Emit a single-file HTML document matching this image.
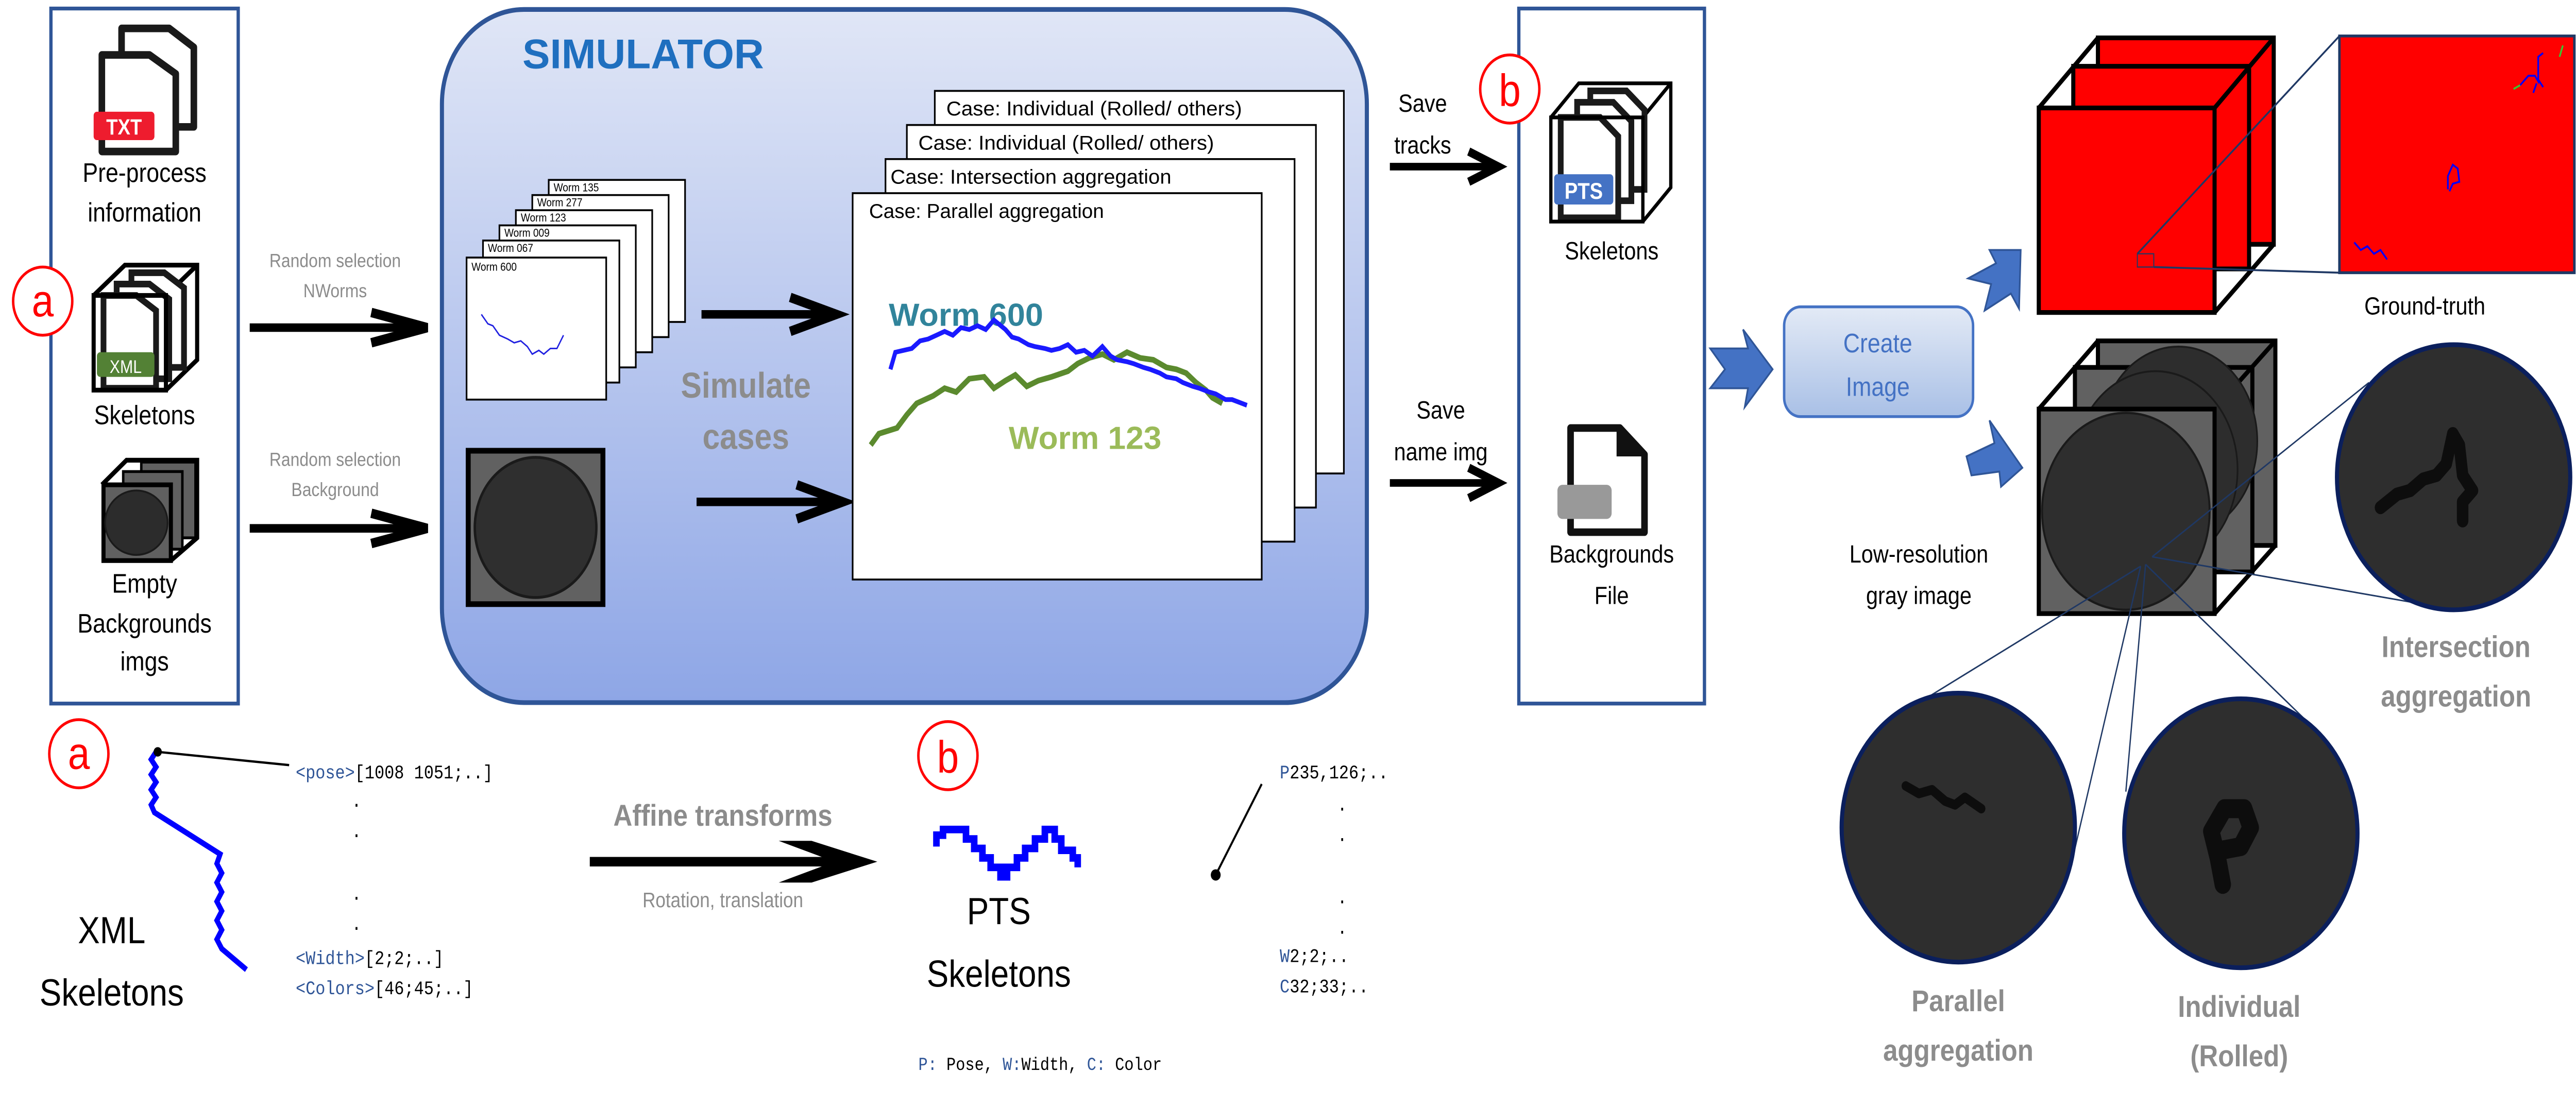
<!DOCTYPE html>
<html><head><meta charset="utf-8"><style>html,body{margin:0;padding:0;background:#fff;width:100%;height:100%;overflow:hidden}svg{display:block;width:100vw;height:100vh}</style></head>
<body>
<svg viewBox="0 0 1568 584" preserveAspectRatio="none" xmlns="http://www.w3.org/2000/svg" font-family="'Liberation Sans', sans-serif">
<defs>
<linearGradient id="sim" x1="0" y1="0" x2="0" y2="1"><stop offset="0" stop-color="#e0e6f6"/><stop offset="1" stop-color="#8ea6e6"/></linearGradient>
<linearGradient id="btn" x1="0" y1="0" x2="0" y2="1"><stop offset="0" stop-color="#e3eaf6"/><stop offset="1" stop-color="#a9c0e6"/></linearGradient>
</defs>

<!-- Left box -->
<rect x="31" y="4.5" width="114" height="367" fill="#fff" stroke="#2f5597" stroke-width="2"/>
<path d="M74,15 h29 l15,10 v42 h-44 z" fill="#fff" stroke="#1a1a1a" stroke-width="4" stroke-linejoin="round"/>
<path d="M62,29 h29 l16,10 v41 h-45 z" fill="#fff" stroke="#1a1a1a" stroke-width="4" stroke-linejoin="round"/>
<rect x="57" y="59" width="37" height="15" rx="2" fill="#ee1c2e"/>
<text x="75.5" y="71" font-size="11.5" font-weight="bold" fill="#fff" text-anchor="middle">TXT</text>
<text x="88" y="96" font-size="14" text-anchor="middle">Pre-process</text>
<text x="88" y="117" font-size="14" text-anchor="middle">information</text>
<path d="M57,156 L76,140 H120 V190 L101,206" fill="none" stroke="#000" stroke-width="2.5"/>
<path d="M101,156 L120,140" stroke="#000" stroke-width="2.5"/>
<path d="M80,144 h20 l12,8 v42 h-32 z" fill="#fff" stroke="#1a1a1a" stroke-width="3.5"/>
<path d="M71,150 h20 l12,8 v42 h-32 z" fill="#fff" stroke="#1a1a1a" stroke-width="3.5"/>
<path d="M63,156 h20 l12,8 v41 h-32 z" fill="#fff" stroke="#1a1a1a" stroke-width="3.5"/>
<rect x="57" y="156" width="44" height="50" fill="none" stroke="#000" stroke-width="2.5"/>
<rect x="59" y="186" width="35" height="13" rx="2" fill="#538135"/>
<text x="76.5" y="197" font-size="9.5" fill="#fff" text-anchor="middle">XML</text>
<text x="88" y="224" font-size="14" text-anchor="middle">Skeletons</text>
<path d="M62,256 L77,243 H120 V284 L104,296" fill="none" stroke="#000" stroke-width="2.5"/>
<rect x="86" y="244" width="33" height="40" fill="#606060" stroke="#000" stroke-width="1.5"/>
<rect x="75" y="249" width="36" height="41" fill="#606060" stroke="#000" stroke-width="1.5"/>
<rect x="63" y="256" width="41" height="40" fill="#606060" stroke="#000" stroke-width="2.5"/>
<ellipse cx="83" cy="276" rx="19" ry="17" fill="#2c2c2c" stroke="#1a1a1a"/>
<text x="88" y="313" font-size="14" text-anchor="middle">Empty</text>
<text x="88" y="334" font-size="14" text-anchor="middle">Backgrounds</text>
<text x="88" y="354" font-size="14" text-anchor="middle">imgs</text>
<circle cx="26" cy="159" r="18" fill="#fff" stroke="#f00" stroke-width="1.5"/>
<text x="26" y="167" font-size="24" fill="#f00" text-anchor="middle">a</text>

<g fill="#8c8c8c" font-size="10" text-anchor="middle">
<text x="204" y="141">Random selection</text><text x="204" y="157">NWorms</text>
<text x="204" y="246">Random selection</text><text x="204" y="262">Background</text>
</g>
<g stroke="#000" stroke-width="4.5" fill="none">
<line x1="152" y1="173" x2="255" y2="173"/><path d="M226,165 L260,173 L226,181" stroke-width="5"/>
<line x1="152" y1="279" x2="255" y2="279"/><path d="M226,271 L260,279 L226,287" stroke-width="5"/>
</g>

<!-- Simulator -->
<rect x="269" y="5" width="563" height="366" rx="50" fill="url(#sim)" stroke="#2f5597" stroke-width="2.5"/>
<text x="318" y="36" font-size="22" font-weight="bold" fill="#1f6fbf" textLength="147" lengthAdjust="spacingAndGlyphs">SIMULATOR</text>
<g stroke="#000" stroke-width="1" fill="#fff">
<rect x="334" y="95" width="83" height="75"/>
<rect x="324" y="103" width="83" height="75"/>
<rect x="314" y="111" width="83" height="75"/>
<rect x="304" y="119" width="83" height="75"/>
<rect x="294" y="127" width="83" height="75"/>
<rect x="284" y="136" width="85" height="75"/>
</g>
<g font-size="6" fill="#000">
<text x="337" y="101">Worm 135</text><text x="327" y="109">Worm 277</text><text x="317" y="117">Worm 123</text><text x="307" y="125">Worm 009</text><text x="297" y="133">Worm 067</text><text x="287" y="143">Worm 600</text>
</g>
<path d="M293,166 l4,5 l3,1 l4,5 l5,2 l4,2 l4,-1 l4,3 l3,4 l4,-2 l3,2 l4,-3 l4,0 l4,-7" fill="none" stroke="#2020e0" stroke-width="0.8"/>
<rect x="285" y="238" width="82" height="81" fill="#616161" stroke="#000" stroke-width="3"/>
<ellipse cx="326" cy="278.5" rx="37" ry="37" fill="#2f2f2f" stroke="#1a1a1a" stroke-width="1.5"/>
<g stroke="#000" stroke-width="4.5" fill="none">
<line x1="427" y1="166" x2="503" y2="166"/><path d="M481,157 L509,166 L481,175" stroke-width="5"/>
<line x1="424" y1="265" x2="506" y2="265"/><path d="M485,256 L513,265 L485,274" stroke-width="5"/>
</g>
<text x="454" y="210" font-size="19" font-weight="bold" fill="#8c8c8c" text-anchor="middle">Simulate</text>
<text x="454" y="237" font-size="19" font-weight="bold" fill="#8c8c8c" text-anchor="middle">cases</text>
<g stroke="#000" stroke-width="1" fill="#fff">
<rect x="569" y="48" width="249" height="202"/>
<rect x="552" y="66" width="249" height="202"/>
<rect x="539" y="84" width="249" height="202"/>
<rect x="519" y="102" width="249" height="204"/>
</g>
<g font-size="10.5" fill="#000">
<text x="576" y="61" textLength="180" lengthAdjust="spacingAndGlyphs">Case: Individual (Rolled/ others)</text>
<text x="559" y="79" textLength="180" lengthAdjust="spacingAndGlyphs">Case: Individual (Rolled/ others)</text>
<text x="542" y="97" textLength="171" lengthAdjust="spacingAndGlyphs">Case: Intersection aggregation</text>
<text x="529" y="115" textLength="143" lengthAdjust="spacingAndGlyphs">Case: Parallel aggregation</text>
</g>
<text x="541" y="172" font-size="17" font-weight="bold" fill="#31849b" textLength="94" lengthAdjust="spacingAndGlyphs">Worm 600</text>
<text x="614" y="237" font-size="17" font-weight="bold" fill="#9bbb59" textLength="93" lengthAdjust="spacingAndGlyphs">Worm 123</text>
<polyline points="530,235 535,229 546,226 552,219 558,213 568,209 575,205 582,207 590,200 599,199 605,205 612,201 618,198 625,204 632,201 640,199 650,196 656,192 663,189 671,187 678,190 686,186 694,189 702,190 710,194 716,195 722,197 728,202 734,206 738,210 744,213" fill="none" stroke="#5b8a2e" stroke-width="3"/>
<polyline points="542,195 545,186 550,185 555,184 560,180 565,179 570,177 575,175 580,177 585,173 590,174 595,172 600,174 605,169 612,174 616,178 620,179 626,182 630,183 636,184 640,185 645,184 650,182 655,186 660,185 665,188 671,183 676,188 680,190 686,191 690,192 696,194 700,195 706,197 710,199 716,200 720,202 726,204 730,205 736,207 740,208 746,211 750,211 759,214" fill="none" stroke="#1a1aff" stroke-width="2.5"/>

<text x="866" y="59" font-size="13" text-anchor="middle">Save</text>
<text x="866" y="81" font-size="13" text-anchor="middle">tracks</text>
<text x="877" y="221" font-size="13" text-anchor="middle">Save</text>
<text x="877" y="243" font-size="13" text-anchor="middle">name img</text>
<g stroke="#000" stroke-width="4" fill="none">
<line x1="846" y1="88" x2="908" y2="88"/><path d="M894,80 L912,88 L894,96" stroke-width="4.5"/>
<line x1="846" y1="255" x2="908" y2="255"/><path d="M894,247 L912,255 L894,263" stroke-width="4.5"/>
</g>

<rect x="924.5" y="4.5" width="113" height="367" fill="#fff" stroke="#2f5597" stroke-width="2"/>
<circle cx="919" cy="47" r="18" fill="#fff" stroke="#f00" stroke-width="1.5"/>
<text x="919" y="56" font-size="24" fill="#f00" text-anchor="middle">b</text>
<path d="M944,62 L961,44 H1017 V99 L1000,117" fill="none" stroke="#000" stroke-width="2"/>
<path d="M1000,62 L1017,44" stroke="#000" stroke-width="2"/>
<path d="M968,48 h22 l11,10 v42 h-33 z" fill="#fff" stroke="#1a1a1a" stroke-width="3.5"/>
<path d="M960,54 h22 l11,10 v42 h-33 z" fill="#fff" stroke="#1a1a1a" stroke-width="3.5"/>
<path d="M950,62 h24 l11,10 v43 h-35 z" fill="#fff" stroke="#1a1a1a" stroke-width="3.5"/>
<rect x="944" y="62" width="56" height="55" fill="none" stroke="#000" stroke-width="2"/>
<rect x="946" y="92" width="36" height="16" rx="2" fill="#4472c4"/>
<text x="964" y="105" font-size="12" font-weight="bold" fill="#fff" text-anchor="middle">PTS</text>
<text x="981" y="137" font-size="13" text-anchor="middle">Skeletons</text>
<path d="M956,226 h30 l15,14 v41 h-45 z" fill="#fff" stroke="#111" stroke-width="4" stroke-linejoin="round"/>
<path d="M985,226 v14 h16" fill="#111" stroke="#111" stroke-width="2"/>
<rect x="948" y="256" width="33" height="18" rx="3" fill="#999"/>
<text x="981" y="297" font-size="13" text-anchor="middle">Backgrounds</text>
<text x="981" y="319" font-size="13" text-anchor="middle">File</text>

<path d="M1041,184 L1064,184 L1061,174 L1079,195 L1062,215 L1064,205 L1041,205 L1050,195 Z" fill="#4472c4" stroke="#2f5597" stroke-width="1"/>
<path d="M1198,147 L1215,139 L1211,132 L1230,132 L1229,163 L1224,155 L1208,164 L1212,150 Z" fill="#4472c4" stroke="#2f5597" stroke-width="1"/>
<path d="M1197,241 L1214,234 L1211,222 L1231,247 L1218,257 L1217,249 L1200,251 Z" fill="#4472c4" stroke="#2f5597" stroke-width="1"/>
<rect x="1086" y="162" width="115" height="58" rx="10" fill="url(#btn)" stroke="#4472c4" stroke-width="1.5"/>
<text x="1143" y="186" font-size="14" fill="#4472c4" text-anchor="middle">Create</text>
<text x="1143" y="209" font-size="14" fill="#4472c4" text-anchor="middle">Image</text>

<g stroke="#000" stroke-width="2.5">
<rect x="1277" y="20" width="107" height="109" fill="#f00"/>
<rect x="1262" y="35" width="107" height="107" fill="#f00"/>
<rect x="1241" y="57" width="107" height="108" fill="#f00"/>
<path d="M1241,57 L1277,20 M1348,57 L1384,20 M1348,165 L1384,129" fill="none"/>
</g>
<rect x="1301" y="134" width="10" height="7" fill="none" stroke="#1f3864" stroke-width="0.6"/>
<path d="M1301,134 L1424,19 M1311,141 L1424,144" stroke="#1f3864" stroke-width="1"/>
<rect x="1424" y="19" width="143" height="125" fill="#f00" stroke="#1f3864" stroke-width="1.5"/>
<path d="M1534,45 l5,-5 l4,0 l2,3 l0,-13 l3,-2 M1545,42 l3,4 M1544,44 l-2,5" fill="none" stroke="#00f" stroke-width="1"/>
<path d="M1560,24 l-2,6 M1534,45 l-4,2" stroke="#3c3" stroke-width="1"/>
<path d="M1490,100 l0,-7 l3,-6 l3,2 l1,7 l-4,1 l-2,4" fill="none" stroke="#00f" stroke-width="1"/>
<path d="M1433,128 l4,4 l4,-2 l4,4 l4,-2 l4,5" fill="none" stroke="#00f" stroke-width="1"/>
<text x="1476" y="166" font-size="13" text-anchor="middle">Ground-truth</text>

<g stroke="#000" stroke-width="2.5">
<rect x="1277" y="180" width="108" height="108" fill="#616161"/>
<rect x="1263" y="194" width="108" height="108" fill="#616161"/>
<path d="M1241,216 L1277,180 M1348,216 L1385,180 M1348,324 L1385,288" fill="none"/>
</g>
<ellipse cx="1326" cy="233" rx="48" ry="50" fill="#2d2d2d" stroke="#1a1a1a"/>
<ellipse cx="1312" cy="248" rx="50" ry="52" fill="#2d2d2d" stroke="#1a1a1a"/>
<rect x="1241" y="216" width="107" height="108" fill="#616161" stroke="#000" stroke-width="2.5"/>
<ellipse cx="1294" cy="270" rx="51" ry="52" fill="#2e2e2e" stroke="#1a1a1a" stroke-width="1.2"/>
<text x="1168" y="297" font-size="13" text-anchor="middle">Low-resolution</text>
<text x="1168" y="319" font-size="13" text-anchor="middle">gray image</text>
<g stroke="#1f3864" stroke-width="0.8">
<line x1="1310" y1="294" x2="1442" y2="202"/>
<line x1="1310" y1="294" x2="1468" y2="318"/>
<line x1="1303" y1="299" x2="1170" y2="370"/>
<line x1="1303" y1="299" x2="1263" y2="448"/>
<line x1="1306" y1="298" x2="1294" y2="418"/>
<line x1="1306" y1="298" x2="1402" y2="379"/>
</g>
<g stroke="#0b1f5c" stroke-width="2.5" fill="#2e2e2e">
<ellipse cx="1493.5" cy="252" rx="71" ry="70"/>
<ellipse cx="1192" cy="437" rx="71" ry="71"/>
<ellipse cx="1364" cy="440" rx="71" ry="71"/>
</g>
<path d="M1449,268 l10,-7 l8,-2 l8,-6 l8,-2 l6,-6 l4,-16 l4,6 l2,16 l6,8 l-6,6 l0,10" fill="none" stroke="#0d0d0d" stroke-width="7" stroke-linecap="round" stroke-linejoin="round"/>
<path d="M1160,415 l8,4 l8,-2 l8,6 l6,2 l6,-4 l10,6" fill="none" stroke="#0d0d0d" stroke-width="5" stroke-linecap="round" stroke-linejoin="round"/>
<path d="M1353,467 l-3,-14 l-4,-14 l8,-12 l12,0 l4,10 l-6,10 l-12,2" fill="none" stroke="#0d0d0d" stroke-width="10" stroke-linecap="round" stroke-linejoin="round"/>
<g font-size="16" font-weight="bold" fill="#8c8c8c" text-anchor="middle">
<text x="1495" y="347">Intersection</text><text x="1495" y="373">aggregation</text>
<text x="1192" y="534">Parallel</text><text x="1192" y="560">aggregation</text>
<text x="1363" y="537">Individual</text><text x="1363" y="563">(Rolled)</text>
</g>

<circle cx="48" cy="398" r="18" fill="#fff" stroke="#f00" stroke-width="1.5"/>
<text x="48" y="406" font-size="24" fill="#f00" text-anchor="middle">a</text>
<path d="M95,397 l-3,4 l3,4 l-3,4 l3,4 l-3,4 l3,4 l-3,4 l2,4 l40,22 l-2,5 l3,5 l-3,5 l3,5 l-3,5 l3,5 l-3,5 l3,5 l-3,5 l3,5 l15,11" fill="none" stroke="#00f" stroke-width="3"/>
<line x1="96" y1="397" x2="176" y2="404" stroke="#000" stroke-width="1.2"/>
<circle cx="96" cy="397" r="2.5" fill="#000"/>
<g font-family="'Liberation Mono', monospace" font-size="10">
<text x="180" y="411"><tspan fill="#2f5597">&lt;pose&gt;</tspan>[1008 1051;..]</text>
<text x="214" y="426">.</text><text x="214" y="442">.</text><text x="214" y="475">.</text><text x="214" y="491">.</text>
<text x="180" y="509"><tspan fill="#2f5597">&lt;Width&gt;</tspan>[2;2;..]</text>
<text x="180" y="525"><tspan fill="#2f5597">&lt;Colors&gt;</tspan>[46;45;..]</text>
</g>
<text x="68" y="498" font-size="20" text-anchor="middle">XML</text>
<text x="68" y="531" font-size="20" text-anchor="middle">Skeletons</text>
<text x="440" y="436" font-size="16" font-weight="bold" fill="#8c8c8c" text-anchor="middle">Affine transforms</text>
<line x1="359" y1="455" x2="522" y2="455" stroke="#000" stroke-width="5"/>
<path d="M474,444 L494,444 L534,455 L494,466 L474,466 L508,455 Z" fill="#000"/>
<text x="440" y="479" font-size="11" fill="#8c8c8c" text-anchor="middle">Rotation, translation</text>
<circle cx="577" cy="399" r="18" fill="#fff" stroke="#f00" stroke-width="1.5"/>
<text x="577" y="408" font-size="24" fill="#f00" text-anchor="middle">b</text>
<path d="M570,447 v-6 h4 v-3 h14 v5 h5 v5 h5 v5 h5 v5 h6 v5 h4 v-5 h6 v-5 h5 v-5 h6 v-5 h6 v-5 h6 v5 h4 v6 h7 v4 h3 v5" fill="none" stroke="#00f" stroke-width="4"/>
<line x1="740" y1="462" x2="768" y2="414" stroke="#000" stroke-width="1.2"/>
<circle cx="740" cy="462" r="3" fill="#000"/>
<text x="608" y="488" font-size="20" text-anchor="middle">PTS</text>
<text x="608" y="521" font-size="20" text-anchor="middle">Skeletons</text>
<g font-family="'Liberation Mono', monospace" font-size="10">
<text x="779" y="411"><tspan fill="#2f5597">P</tspan>235,126;..</text>
<text x="814" y="428">.</text><text x="814" y="444">.</text><text x="814" y="477">.</text><text x="814" y="493">.</text>
<text x="779" y="508"><tspan fill="#2f5597">W</tspan>2;2;..</text>
<text x="779" y="524"><tspan fill="#2f5597">C</tspan>32;33;..</text>
<text x="559" y="565" font-size="9.5"><tspan fill="#2f5597">P:</tspan> Pose, <tspan fill="#2f5597">W:</tspan>Width, <tspan fill="#2f5597">C:</tspan> Color</text>
</g>
</svg>
</body></html>
